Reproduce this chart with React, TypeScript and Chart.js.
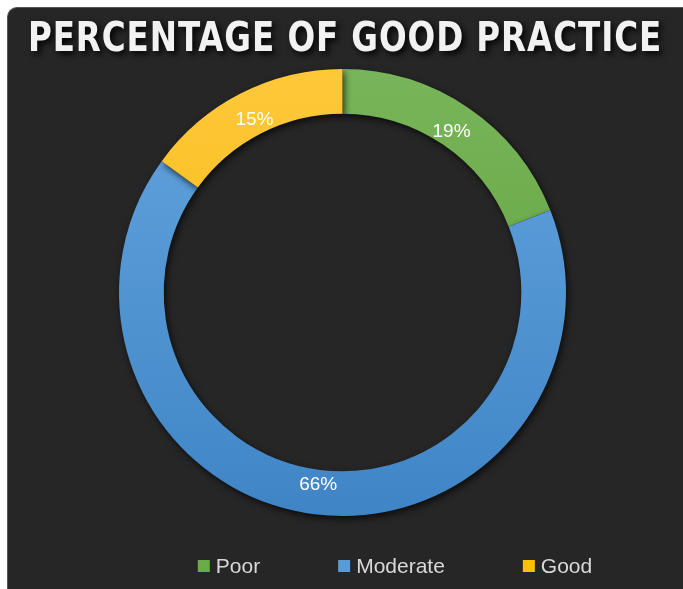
import React, { useEffect, useRef } from "react";
import { Chart, registerables } from "chart.js";

Chart.register(...registerables);

const titleText = "PERCENTAGE OF GOOD PRACTICE";
const categories = ["Poor", "Moderate", "Good"];
const values = [19, 66, 15];
const labelsText = ["19%", "66%", "15%"];
const topColors = ["#78b55a", "#64a4de", "#ffc83a"];
const bottomColors = ["#5c9e38", "#3f85c6", "#f0b400"];
const legendColors = ["#6aac46", "#5b9bd5", "#ffc000"];

const BG = "#262626";

export default function App() {
  const ref = useRef<HTMLCanvasElement>(null);

  useEffect(() => {
    document.body.style.margin = "0";
    document.body.style.overflow = "hidden";
    const canvas = ref.current!;

    const titlePlugin = {
      id: "customTitle",
      afterDraw(chart: any) {
        const ctx = chart.ctx as CanvasRenderingContext2D;
        ctx.save();
        ctx.font = "bold 40px 'DejaVu Sans Condensed'";
        (ctx as any).letterSpacing = "1px";
        ctx.textAlign = "center";
        ctx.textBaseline = "alphabetic";
        ctx.shadowColor = "rgba(0,0,0,0.95)";
        ctx.shadowBlur = 6;
        ctx.shadowOffsetX = 3;
        ctx.shadowOffsetY = 3;
        ctx.fillStyle = "#f2f2f2";
        ctx.translate(337, 43);
        ctx.scale(0.905, 1);
        ctx.fillText(titleText, 0, 0);
        ctx.restore();
      },
    };

    const labelPlugin = {
      id: "sliceLabels",
      afterDatasetsDraw(chart: any) {
        const ctx = chart.ctx as CanvasRenderingContext2D;
        const meta = chart.getDatasetMeta(0);
        ctx.save();
        ctx.font = "19px 'Liberation Sans', Arial";
        ctx.fillStyle = "#ffffff";
        ctx.textAlign = "center";
        ctx.textBaseline = "middle";
        meta.data.forEach((arc: any, i: number) => {
          const { x, y, startAngle, endAngle, innerRadius, outerRadius } = arc.getProps(
            ["x", "y", "startAngle", "endAngle", "innerRadius", "outerRadius"],
            true
          );
          const a = (startAngle + endAngle) / 2;
          const r = innerRadius + (outerRadius - innerRadius) * 0.34;
          ctx.fillText(labelsText[i], x + Math.cos(a) * r, y + Math.sin(a) * r);
        });
        ctx.restore();
      },
    };

    const shadowPlugin = {
      id: "ringShadow",
      beforeDatasetsDraw(chart: any) {
        const ctx = chart.ctx as CanvasRenderingContext2D;
        ctx.save();
        ctx.shadowColor = "rgba(0,0,0,0.7)";
        ctx.shadowBlur = 7;
        ctx.shadowOffsetX = 2;
        ctx.shadowOffsetY = 3;
      },
      afterDatasetsDraw(chart: any) {
        chart.ctx.restore();
      },
    };

    const legendPlugin = {
      id: "customLegend",
      afterDraw(chart: any) {
        const ctx = chart.ctx as CanvasRenderingContext2D;
        ctx.save();
        ctx.font = "21px 'Liberation Sans', Arial";
        ctx.textBaseline = "middle";
        ctx.textAlign = "left";
        const gap = 78;
        const box = 12;
        const textGap = 6;
        const widths = categories.map((c) => box + textGap + ctx.measureText(c).width);
        const total = widths.reduce((a, b) => a + b, 0) + gap * (categories.length - 1);
        let x = 387 - total / 2;
        const y = 558;
        categories.forEach((c, i) => {
          ctx.fillStyle = legendColors[i];
          ctx.fillRect(x, y - box / 2, box, box);
          ctx.fillStyle = "#d9d9d9";
          ctx.fillText(c, x + box + textGap, y + 1);
          x += widths[i] + gap;
        });
        ctx.restore();
      },
    };

    const chart = new Chart(canvas, {
      type: "doughnut",
      data: {
        labels: categories,
        datasets: [
          {
            data: values,
            borderWidth: 0,
            backgroundColor: (c: any) => {
              const area = c.chart.chartArea;
              if (!area) return topColors[c.dataIndex];
              const g = c.chart.ctx.createLinearGradient(0, area.top, 0, area.bottom);
              g.addColorStop(0, topColors[c.dataIndex]);
              g.addColorStop(1, bottomColors[c.dataIndex]);
              return g;
            },
          },
        ],
      },
      options: {
        animation: false,
        responsive: true,
        maintainAspectRatio: false,
        cutout: "80%",
        layout: { padding: { top: 61, bottom: 73, left: 0, right: 6 } },
        plugins: {
          legend: { display: false },
          title: { display: false },
          tooltip: { enabled: false },
        },
      },
      plugins: [shadowPlugin, labelPlugin, titlePlugin, legendPlugin],
    });
    return () => chart.destroy();
  }, []);

  return (
    <div
      style={{
        position: "fixed",
        left: 7,
        top: 7,
        width: 676,
        height: 582,
        background: BG,
        borderTopLeftRadius: 10,
        borderLeft: "1px solid #555",
        borderTop: "1px solid #555",
        boxSizing: "border-box",
      }}
    >
      <canvas ref={ref} />
    </div>
  );
}
